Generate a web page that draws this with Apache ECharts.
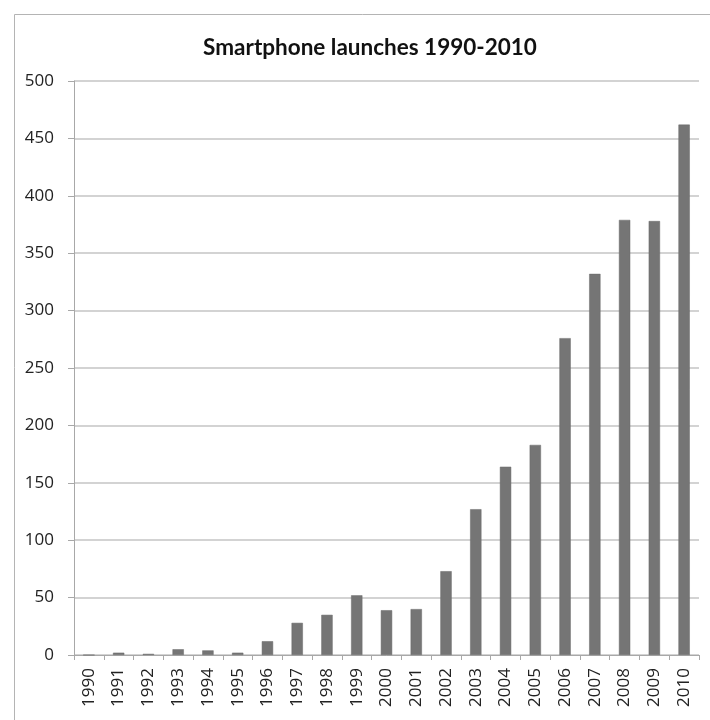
<!DOCTYPE html>
<html>
<head>
<meta charset="utf-8">
<script src="https://cdn.jsdelivr.net/npm/echarts@6/dist/echarts.min.js"></script>
<style>
html,body{margin:0;padding:0;background:#fff;}
#chart{width:710px;height:720px;}
</style>
</head>
<body>
<div id="chart"></div>
<script>
var titleText = 'Smartphone launches 1990-2010';
var years = ['1990','1991','1992','1993','1994','1995','1996','1997','1998','1999','2000',
             '2001','2002','2003','2004','2005','2006','2007','2008','2009','2010'];
var launches = [0, 2, 1, 5, 4, 2, 12, 28, 35, 52, 39, 40, 73, 127, 164, 183, 276, 332, 379, 378, 462];
var yTicks = {min: 0, max: 500, interval: 50};

var chart = echarts.init(document.getElementById('chart'), null, {renderer: 'canvas'});
chart.setOption({
  animation: false,
  backgroundColor: '#ffffff',
  graphic: [{
    type: 'rect',
    left: 12, top: 12,
    shape: {x: 0, y: 0, width: 720, height: 730},
    style: {fill: 'none', stroke: '#b4b4b4', lineWidth: 1},
    silent: true, z: -1
  }],
  title: {
    text: titleText,
    left: 365, top: 31, textAlign: 'center',
    textStyle: {fontFamily: 'Lato', fontWeight: 'bold', fontSize: 22.5, color: '#111'}
  },
  grid: {left: 74, right: 11, top: 81, bottom: 65, containLabel: false},
  xAxis: {
    type: 'category',
    data: years,
    boundaryGap: true,
    axisLine: {show: true, lineStyle: {color: '#a8a8a8', width: 1}},
    axisTick: {show: true, length: 5, alignWithLabel: false, interval: 0, lineStyle: {color: '#a8a8a8'}},
    axisLabel: {interval: 0, rotate: 90, margin: 13, fontFamily: 'Open Sans', fontSize: 17, color: '#222'},
    splitLine: {show: false}
  },
  yAxis: {
    type: 'value',
    min: yTicks.min, max: yTicks.max, interval: yTicks.interval,
    axisLine: {show: true, lineStyle: {color: '#a8a8a8', width: 1}},
    axisTick: {show: true, length: 6, lineStyle: {color: '#a8a8a8'}},
    axisLabel: {margin: 20, fontFamily: 'Open Sans', fontSize: 17, color: '#222'},
    splitLine: {show: true, lineStyle: {color: '#c4c4c4', width: 1.5}}
  },
  series: [{
    type: 'bar',
    data: launches,
    barWidth: '38%',
    itemStyle: {color: '#757575', borderColor: '#6a6a6a', borderWidth: 0.5}
  }]
});
</script>
</body>
</html>
